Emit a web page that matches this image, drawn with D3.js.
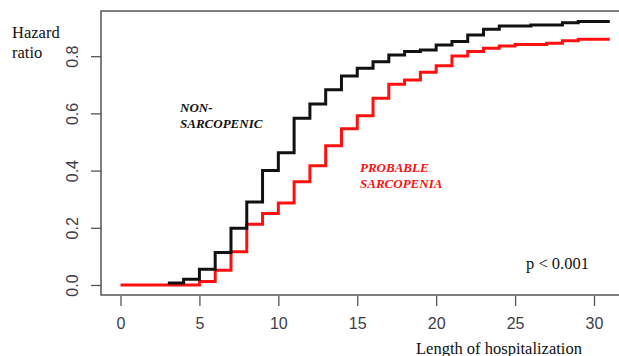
<!DOCTYPE html>
<html>
<head>
<meta charset="utf-8">
<script src="https://cdn.jsdelivr.net/npm/d3@7"></script>
<style>
  body { margin: 0; background: #fff; }
  svg { display: block; }
</style>
</head>
<body>
<svg width="619" height="356"></svg>
<script>
// days in hospital where each step starts, and the cumulative hazard after it
var nonSarcTimes = [3, 4, 5, 6, 7, 8, 9, 10, 11, 12, 13, 14, 15, 16, 17, 18, 19, 20, 21, 22, 23, 24, 26, 28, 29, 31];
var nonSarcHazard = [0.007, 0.02, 0.055, 0.114, 0.198, 0.29, 0.40, 0.462, 0.583, 0.633, 0.683, 0.731, 0.758, 0.781, 0.804, 0.816, 0.822, 0.839, 0.851, 0.874, 0.894, 0.906, 0.909, 0.917, 0.921, 0.921];

var sarcTimes = [0, 5, 6, 7, 8, 9, 10, 11, 12, 13, 14, 15, 16, 17, 18, 19, 20, 21, 22, 23, 24, 25, 27, 28, 29, 31];
var sarcHazard = [0, 0.012, 0.052, 0.116, 0.212, 0.25, 0.287, 0.361, 0.417, 0.487, 0.546, 0.592, 0.653, 0.702, 0.717, 0.744, 0.767, 0.801, 0.816, 0.828, 0.836, 0.841, 0.845, 0.854, 0.859, 0.859];

var xTicks = [0, 5, 10, 15, 20, 25, 30];
var yTicks = [0, 0.2, 0.4, 0.6, 0.8];

var svg = d3.select("svg");

var x = d3.scaleLinear().domain([0, 30]).range([120.5, 594]);
var y = d3.scaleLinear().domain([0, 0.8]).range([285, 56.2]);

var axisCol = "#3c3c4a";

// plot frame (right side runs off the picture)
svg.append("path")
	.attr("d", "M640,11 H101 V295 H640")
	.attr("fill", "none")
	.attr("stroke", "#555")
	.attr("stroke-width", 1.5);

var xAxis = d3.axisBottom(x).tickValues(xTicks).tickSize(10).tickFormat(d3.format("d"));
var gx = svg.append("g").attr("transform", "translate(0,296)").call(xAxis);
gx.select(".domain").remove();
gx.selectAll("line").attr("stroke", "#555").attr("stroke-width", 1.3);
gx.selectAll("text")
	.attr("y", 27)
	.attr("dy", "0.35em")
	.attr("fill", axisCol)
	.style("font-family", "Liberation Sans, Arial, sans-serif")
	.style("font-size", "16px");

var yAxis = d3.axisLeft(y).tickValues(yTicks).tickSize(10).tickFormat(d3.format(".1f"));
var gy = svg.append("g").attr("transform", "translate(101,0)").call(yAxis);
gy.select(".domain").remove();
gy.selectAll("line").attr("stroke", "#555").attr("stroke-width", 1.3);
gy.selectAll("text")
	.attr("x", 0)
	.attr("y", 0)
	.attr("dy", "0.35em")
	.attr("text-anchor", "middle")
	.attr("transform", "translate(-29,0) rotate(-90)")
	.attr("fill", axisCol)
	.style("font-family", "Liberation Sans, Arial, sans-serif")
	.style("font-size", "16px");

var line = d3.line()
	.x(d => x(d[0]))
	.y(d => y(d[1]))
	.curve(d3.curveStepAfter);

svg.append("path")
	.datum(d3.zip(sarcTimes, sarcHazard))
	.attr("d", line)
	.attr("fill", "none")
	.attr("stroke", "#ff1010")
	.attr("stroke-width", 3);

svg.append("path")
	.datum(d3.zip(nonSarcTimes, nonSarcHazard))
	.attr("d", line)
	.attr("fill", "none")
	.attr("stroke", "#111")
	.attr("stroke-width", 3);

var serif = "Liberation Serif, Times New Roman, serif";

var txt = function(str, px, py, size, col, bold){
	var t = svg.append("text")
		.attr("x", px)
		.attr("y", py)
		.attr("fill", col)
		.style("font-family", serif)
		.style("font-size", size + "px")
		.text(str);
	if(bold){
		t.style("font-weight", "bold").style("font-style", "italic");
	}
	return t;
};

txt("Hazard", 12, 38, 16.5, "#111", false);
txt("ratio", 12, 58, 16.5, "#111", false);

txt("NON-", 180, 112, 13, "#111", true);
txt("SARCOPENIC", 180, 128, 13, "#111", true);

txt("PROBABLE", 360, 172, 13, "#ff1010", true);
txt("SARCOPENIA", 360, 188, 13, "#ff1010", true);

txt("p < 0.001", 526, 269, 16.5, "#111", false);
txt("Length of hospitalization", 416, 354, 16.5, "#111", false);
</script>
</body>
</html>
